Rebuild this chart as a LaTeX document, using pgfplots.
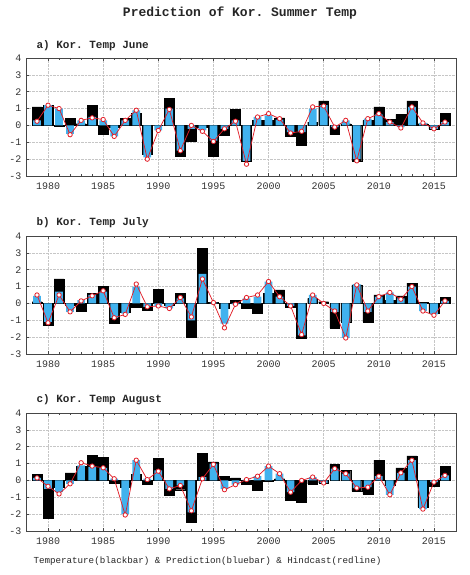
\documentclass[border=0pt]{standalone}
\usepackage{pgfplots}
\usepackage{pgfplotstable}
\pgfplotsset{compat=1.18}
\usepackage{fontspec}
\setmainfont{Liberation Serif}
\setmonofont{Liberation Mono}
\definecolor{obar}{RGB}{0,0,0}
\definecolor{pbar}{RGB}{65,178,238}
\definecolor{hline}{RGB}{225,30,40}
\definecolor{framec}{RGB}{70,70,70}

\pgfplotstableread{
year obs pred hind
1979 1.1 0.3 0.25
1980 1.2 1.2 1.2
1981 -0.05 1.0 1.0
1982 0.4 -0.5 -0.55
1983 0.1 0.3 0.3
1984 1.2 0.5 0.45
1985 -0.5 0.3 0.35
1986 -0.1 -0.65 -0.65
1987 0.4 0.3 0.3
1988 0.7 0.9 0.9
1989 -1.7 -1.9 -2.0
1990 0.0 -0.3 -0.3
1991 1.6 1.0 0.95
1992 -1.85 -1.5 -1.5
1993 -0.95 -0.2 0.0
1994 -0.1 -0.3 -0.35
1995 -1.8 -0.9 -0.95
1996 -0.6 -0.2 -0.2
1997 0.95 0.3 0.25
1998 -2.1 -2.1 -2.3
1999 0.3 0.5 0.5
2000 0.3 0.6 0.7
2001 0.45 0.35 0.4
2002 -0.65 -0.4 -0.45
2003 -1.15 -0.4 -0.35
2004 0.2 1.0 1.1
2005 1.45 1.2 1.15
2006 -0.55 -0.1 -0.1
2007 0.1 0.3 0.3
2008 -2.1 -2.0 -2.1
2009 0.3 0.4 0.4
2010 1.1 0.65 0.7
2011 0.35 0.2 0.2
2012 0.65 -0.1 -0.15
2013 1.45 1.1 1.1
2014 0.1 0.15 0.15
2015 -0.2 -0.2 -0.2
2016 0.7 0.2 0.2
}\june

\pgfplotstableread{
year obs pred hind
1979 0.1 0.45 0.5
1980 -1.3 -1.1 -1.15
1981 1.45 0.7 0.5
1982 -0.1 -0.5 -0.5
1983 -0.45 0.2 0.15
1984 0.6 0.5 0.45
1985 1.0 0.7 0.75
1986 -1.15 -0.85 -0.85
1987 -0.5 -0.6 -0.65
1988 -0.2 1.0 1.15
1989 -0.4 -0.2 -0.2
1990 0.85 -0.15 -0.15
1991 -0.1 -0.3 -0.3
1992 0.6 0.3 0.35
1993 -2.0 -1.0 -0.8
1994 3.25 1.75 1.45
1995 0.05 0.05 0.05
1996 -0.3 -1.2 -1.45
1997 0.2 -0.05 -0.05
1998 -0.3 0.3 0.35
1999 -0.6 0.4 0.5
2000 0.6 1.3 1.3
2001 0.8 0.4 0.4
2002 -0.2 -0.15 -0.15
2003 -2.05 -1.9 -1.85
2004 0.3 0.5 0.5
2005 0.1 0.0 0.0
2006 -1.45 -0.5 -0.45
2007 -1.1 -2.05 -2.05
2008 1.1 1.15 1.1
2009 -1.1 -0.5 -0.45
2010 0.5 0.4 0.4
2011 0.2 0.65 0.65
2012 0.45 0.3 0.25
2013 1.2 1.0 1.0
2014 0.05 -0.45 -0.45
2015 -0.6 -0.65 -0.7
2016 0.35 0.15 0.15
}\july

\pgfplotstableread{
year obs pred hind
1979 0.35 0.15 0.15
1980 -2.25 -0.5 -0.35
1981 -0.4 -0.7 -0.8
1982 0.45 -0.2 -0.2
1983 0.85 0.9 1.05
1984 1.5 0.8 0.85
1985 1.35 0.75 0.75
1986 -0.15 0.1 0.1
1987 -0.4 -2.0 -2.05
1988 0.35 1.2 1.2
1989 -0.2 0.1 0.05
1990 1.3 0.6 0.55
1991 -0.9 -0.5 -0.5
1992 -0.55 -0.3 -0.3
1993 -2.5 -1.9 -1.8
1994 1.6 0.2 0.1
1995 1.1 1.0 0.95
1996 0.25 -0.5 -0.55
1997 0.15 -0.25 -0.25
1998 -0.2 0.05 0.05
1999 -0.6 0.25 0.25
2000 -0.05 0.85 0.85
2001 0.1 0.4 0.4
2002 -1.2 -0.7 -0.7
2003 -1.3 0.0 0.0
2004 -0.2 0.2 0.2
2005 -0.15 -0.15 -0.15
2006 0.95 0.7 0.7
2007 0.6 0.4 0.4
2008 -0.65 -0.45 -0.45
2009 -0.8 -0.4 -0.4
2010 1.2 0.25 0.25
2011 -0.3 -0.85 -0.85
2012 0.75 0.45 0.45
2013 1.45 1.2 1.2
2014 -1.6 -1.7 -1.7
2015 -0.35 -0.1 -0.1
2016 0.85 0.3 0.3
}\august

\pgfplotsset{
  panel/.style={
    width=430pt, height=118pt, scale only axis,
    anchor=south west,
    xmin=1978, xmax=2017,
    ymin=-3, ymax=4,
    xtick={1980,1985,...,2015},
    ytick={-3,...,4},
    minor x tick num=4,
    tick align=inside,
    major tick length=3pt, minor tick length=2pt,
    ytick pos=left,
    axis line style={framec, line width=0.8pt},
    tick style={framec, line width=0.6pt},
    grid=major,
    major grid style={densely dotted, gray!45, line width=0.5pt},
    /pgf/number format/1000 sep={},
    /pgf/number format/assume math mode=true,
    ticklabel style={font=\ttfamily\fontsize{10}{11}\selectfont, text=black!80},
    xticklabel style={yshift=-3pt},
    yticklabel style={xshift=-1pt},
    clip=false,
  },
  obsbar/.style={ybar, bar shift=0pt, bar width=0.9, fill=obar, draw=obar, line width=0.4pt},
  predbar/.style={ybar, bar shift=0pt, bar width=0.7, fill=pbar, draw=none},
  hindline/.style={hline, line width=0.75pt, mark=*, mark size=2.2pt,
    mark options={fill=white, draw=hline, line width=0.8pt}},
}

\begin{document}
\begin{tikzpicture}
\useasboundingbox (0,0) rectangle (469pt,575pt);

\node[font=\ttfamily\bfseries\fontsize{13}{14}\selectfont, text=black!85] at (240pt,562pt) {Prediction of Kor. Summer Temp};

% Panel a
\begin{axis}[panel, at={(26pt,399pt)}]
\addplot[obsbar] table[x=year, y=obs] {\june};
\addplot[predbar] table[x=year, y=pred] {\june};
\addplot[hindline] table[x=year, y=hind] {\june};
\end{axis}
\node[anchor=west, font=\ttfamily\bfseries\fontsize{11}{12}\selectfont, text=black!85] at (33pt,529pt) {a) Kor. Temp June};

% Panel b
\begin{axis}[panel, at={(26pt,221pt)}]
\addplot[obsbar] table[x=year, y=obs] {\july};
\addplot[predbar] table[x=year, y=pred] {\july};
\addplot[hindline] table[x=year, y=hind] {\july};
\end{axis}
\node[anchor=west, font=\ttfamily\bfseries\fontsize{11}{12}\selectfont, text=black!85] at (33pt,352pt) {b) Kor. Temp July};

% Panel c
\begin{axis}[panel, at={(26pt,44pt)}]
\addplot[obsbar] table[x=year, y=obs] {\august};
\addplot[predbar] table[x=year, y=pred] {\august};
\addplot[hindline] table[x=year, y=hind] {\august};
\end{axis}
\node[anchor=west, font=\ttfamily\bfseries\fontsize{11}{12}\selectfont, text=black!85] at (33pt,175pt) {c) Kor. Temp August};

\node[anchor=west, font=\ttfamily\fontsize{9.2}{10}\selectfont, text=black!85] at (30pt,14pt) {Temperature(blackbar) \& Prediction(bluebar) \& Hindcast(redline)};
\end{tikzpicture}
\end{document}
